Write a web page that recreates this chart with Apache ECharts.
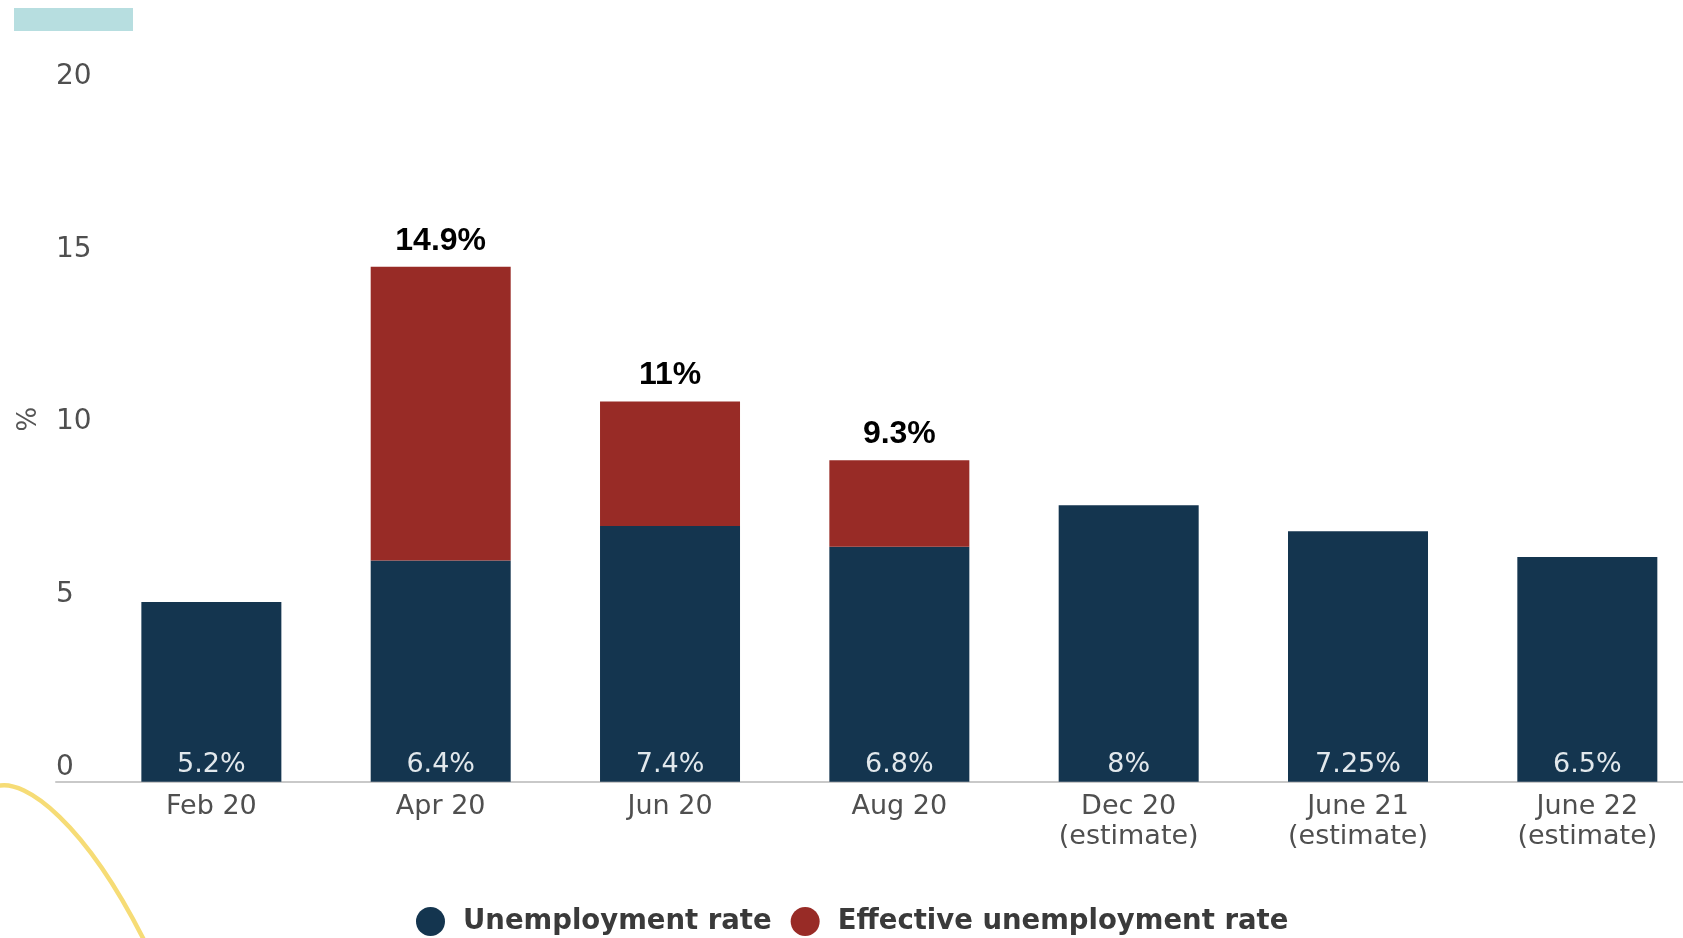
<!DOCTYPE html>
<html>
<head>
<meta charset="utf-8">
<script src="https://cdn.jsdelivr.net/npm/echarts@6/dist/echarts.min.js"></script>
<style>
html,body{margin:0;padding:0;background:#fff;}
#chart{width:1683px;height:938px;}
</style>
</head>
<body>
<div id="chart"></div>
<script>
const categories = ['Feb 20', 'Apr 20', 'Jun 20', 'Aug 20', 'Dec 20\n(estimate)', 'June 21\n(estimate)', 'June 22\n(estimate)'];
const unemployment = [5.2, 6.4, 7.4, 6.8, 8, 7.25, 6.5];
const effective = [null, 14.9, 11, 9.3, null, null, null];
const yTicks = [0, 5, 10, 15, 20];
const seriesNames = ['Unemployment rate', 'Effective unemployment rate'];

const effectiveExtra = effective.map((v, i) => v == null ? null : { value: +(v - unemployment[i]).toFixed(2), total: v });

const chart = echarts.init(document.getElementById('chart'), null, { renderer: 'canvas' });
const gridTop = 90.5, gridBottom = 156.3;
chart.setOption({
  backgroundColor: '#ffffff',
  animation: false,
  textStyle: { fontFamily: 'DejaVu Sans' },
  graphic: [
    { type: 'rect', left: 14, top: 8, shape: { width: 119, height: 23 }, style: { fill: '#b7dee0' }, silent: true },
    { type: 'bezierCurve', shape: { x1: -2, y1: 786, cpx1: 25, cpy1: 779, cpx2: 85, cpy2: 822, x2: 146, y2: 944 },
      style: { stroke: '#f6dc76', lineWidth: 4.5, fill: null }, silent: true }
  ],
  legend: {
    data: seriesNames,
    left: 411,
    top: 902,
    icon: 'circle',
    itemWidth: 29,
    itemHeight: 29,
    itemGap: 19,
    textStyle: { fontFamily: 'DejaVu Sans', fontWeight: 'bold', fontSize: 27.5, color: '#3a3a3a', padding: [0, 0, 0, 13] }
  },
  grid: [
    { left: 96.7, right: -19, top: gridTop, bottom: gridBottom, outerBoundsMode: 'none', containLabel: false },
    { left: 56, right: -40, top: gridTop, bottom: gridBottom, outerBoundsMode: 'none', containLabel: false }
  ],
  xAxis: [
    {
      type: 'category',
      gridIndex: 0,
      data: categories,
      axisLine: { show: false },
      axisTick: { show: false },
      axisLabel: { color: '#4f4f4f', fontFamily: 'DejaVu Sans', fontSize: 27, lineHeight: 30, margin: 10, interval: 0 }
    },
    {
      type: 'value',
      gridIndex: 1,
      axisLine: { show: true, lineStyle: { color: '#c9c9c9', width: 2 } },
      axisTick: { show: false },
      axisLabel: { show: false },
      splitLine: { show: false }
    }
  ],
  yAxis: [
    {
      type: 'value',
      gridIndex: 0,
      min: 0,
      max: 20,
      interval: 5,
      name: '%',
      nameLocation: 'middle',
      nameRotate: 90,
      nameGap: 54,
      nameTextStyle: { color: '#555555', fontFamily: 'DejaVu Sans', fontSize: 26, padding: [0, 0, 0, 34] },
      axisLine: { show: false },
      axisTick: { show: false },
      splitLine: { show: false },
      axisLabel: {
        color: '#4f4f4f', fontFamily: 'DejaVu Sans', fontSize: 28, align: 'left', verticalAlign: 'bottom', margin: 40.7,
        formatter: v => yTicks.includes(v) ? String(v) : ''
      }
    },
    { type: 'value', gridIndex: 1, show: false }
  ],
  series: [
    {
      name: seriesNames[0],
      type: 'bar',
      stack: 'rate',
      xAxisIndex: 0,
      yAxisIndex: 0,
      data: unemployment,
      barWidth: 140,
      itemStyle: { color: '#14354f' },
      label: {
        show: true,
        position: 'insideBottom',
        distance: 3,
        color: '#e2e8ec',
        fontFamily: 'DejaVu Sans',
        fontSize: 27,
        formatter: p => p.value + '%'
      }
    },
    {
      name: seriesNames[1],
      type: 'bar',
      stack: 'rate',
      xAxisIndex: 0,
      yAxisIndex: 0,
      data: effectiveExtra,
      barWidth: 140,
      itemStyle: { color: '#982b26' },
      label: {
        show: true,
        position: 'top',
        distance: 10,
        color: '#000000',
        fontFamily: 'Liberation Sans',
        fontWeight: 'bold',
        fontSize: 32,
        formatter: p => p.data && p.data.total != null ? p.data.total + '%' : ''
      }
    }
  ]
});
</script>
</body>
</html>
